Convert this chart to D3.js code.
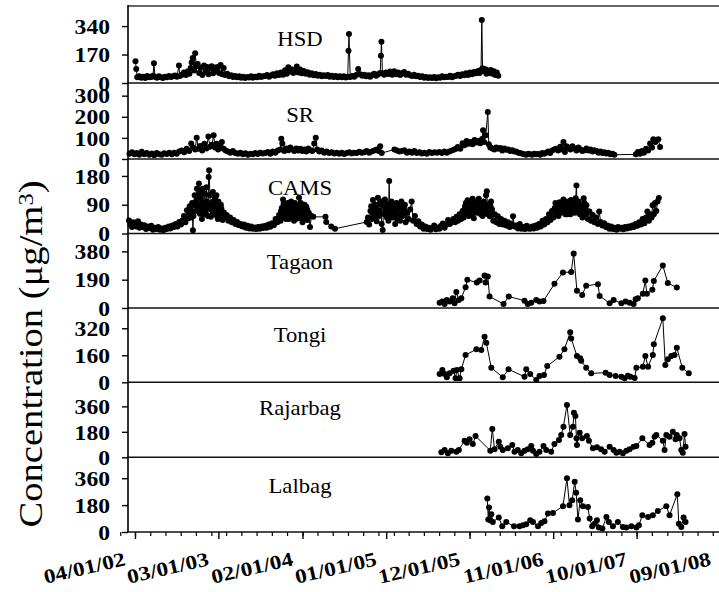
<!DOCTYPE html>
<html><head><meta charset="utf-8">
<script src="https://cdn.jsdelivr.net/npm/d3@7"></script>
<style>body{margin:0;background:#fff}svg{display:block}</style>
</head><body>
<svg id="chart" width="719" height="592"></svg>
<script>
const stations = ["HSD","SR","CAMS","Tagaon","Tongi","Rajarbag","Lalbag"];
const yTicks = [[0,170,340],[0,100,200,300],[0,90,180],[0,190,380],[0,160,320],[0,180,360],[0,180,360]];
const yMax = [460,360,233,500,440,530,500];
const xTickLabels = ["04/01/02","03/01/03","02/01/04","01/01/05","12/01/05","11/01/06","10/01/07","09/01/08"];
const yTitle = "Concentration (\u03bcg/m";

const hsd = [["2002-04-03",130],["2002-04-06",84],["2002-04-10",35],["2002-04-18",40],["2002-04-26",32],["2002-05-04",38],["2002-05-12",30],["2002-05-20",42],["2002-05-28",34],["2002-06-05",36],["2002-06-12",44],["2002-06-16",118],["2002-06-20",38],["2002-06-28",32],["2002-07-06",40],["2002-07-14",35],["2002-07-22",30],["2002-07-30",38],["2002-08-07",34],["2002-08-15",42],["2002-08-23",36],["2002-08-31",40],["2002-09-08",45],["2002-09-16",38],["2002-09-24",104],["2002-09-28",42],["2002-10-06",50],["2002-10-14",62],["2002-10-22",48],["2002-10-30",70],["2002-11-05",55],["2002-11-10",90],["2002-11-14",123],["2002-11-18",149],["2002-11-24",75],["2002-11-28",177],["2002-12-03",100],["2002-12-08",113],["2002-12-14",60],["2002-12-20",92],["2002-12-27",48],["2003-01-03",105],["2003-01-09",65],["2003-01-15",95],["2003-01-21",52],["2003-01-27",88],["2003-02-02",100],["2003-02-08",58],["2003-02-14",92],["2003-02-20",70],["2003-02-26",96],["2003-03-04",60],["2003-03-10",108],["2003-03-16",52],["2003-03-22",90],["2003-03-28",48],["2003-04-05",55],["2003-04-13",40],["2003-04-21",46],["2003-04-29",36],["2003-05-07",42],["2003-05-15",34],["2003-05-23",40],["2003-05-31",32],["2003-06-08",38],["2003-06-16",30],["2003-06-24",36],["2003-07-02",33],["2003-07-10",40],["2003-07-18",32],["2003-07-26",37],["2003-08-03",35],["2003-08-11",44],["2003-08-19",36],["2003-08-27",40],["2003-09-04",42],["2003-09-12",48],["2003-09-20",38],["2003-09-28",45],["2003-10-06",52],["2003-10-14",44],["2003-10-22",58],["2003-10-30",48],["2003-11-07",62],["2003-11-15",50],["2003-11-23",76],["2003-11-30",56],["2003-12-06",94],["2003-12-12",68],["2003-12-18",82],["2003-12-26",60],["2004-01-03",75],["2004-01-09",98],["2004-01-15",62],["2004-01-22",80],["2004-01-29",58],["2004-02-06",72],["2004-02-14",55],["2004-02-22",64],["2004-03-01",50],["2004-03-09",58],["2004-03-17",46],["2004-03-25",54],["2004-04-02",44],["2004-04-10",50],["2004-04-18",40],["2004-04-26",47],["2004-05-04",42],["2004-05-12",48],["2004-05-20",38],["2004-05-28",44],["2004-06-05",36],["2004-06-13",42],["2004-06-21",34],["2004-06-29",40],["2004-07-07",35],["2004-07-15",41],["2004-07-23",33],["2004-07-31",38],["2004-08-03",193],["2004-08-05",293],["2004-08-10",36],["2004-08-18",42],["2004-08-26",38],["2004-09-03",48],["2004-09-11",84],["2004-09-19",52],["2004-09-27",44],["2004-10-05",50],["2004-10-13",40],["2004-10-21",46],["2004-10-29",38],["2004-11-06",48],["2004-11-14",56],["2004-11-22",44],["2004-11-30",52],["2004-12-08",60],["2004-12-11",163],["2004-12-13",247],["2004-12-17",58],["2004-12-24",50],["2005-01-01",62],["2005-01-09",54],["2005-01-17",68],["2005-01-25",50],["2005-02-02",70],["2005-02-10",52],["2005-02-18",62],["2005-02-26",48],["2005-03-06",58],["2005-03-14",65],["2005-03-22",50],["2005-03-30",55],["2005-04-07",46],["2005-04-15",42],["2005-04-23",50],["2005-05-01",40],["2005-05-09",44],["2005-05-17",36],["2005-05-25",40],["2005-06-02",32],["2005-06-10",36],["2005-06-18",30],["2005-06-26",34],["2005-07-04",30],["2005-07-12",36],["2005-07-20",28],["2005-07-28",34],["2005-08-05",32],["2005-08-13",40],["2005-08-21",34],["2005-08-29",38],["2005-09-06",36],["2005-09-14",44],["2005-09-22",34],["2005-09-30",40],["2005-10-08",44],["2005-10-16",50],["2005-10-24",42],["2005-11-01",52],["2005-11-09",46],["2005-11-17",58],["2005-11-25",48],["2005-12-03",62],["2005-12-11",52],["2005-12-19",66],["2005-12-27",58],["2006-01-04",72],["2006-01-10",60],["2006-01-16",78],["2006-01-19",376],["2006-01-22",88],["2006-01-27",70],["2006-02-02",82],["2006-02-07",55],["2006-02-12",74],["2006-02-18",60],["2006-02-24",78],["2006-03-02",56],["2006-03-08",70],["2006-03-14",48],["2006-03-20",62],["2006-03-26",44]];

const sr = [["2002-03-10",25],["2002-03-20",32],["2002-03-30",22],["2002-04-08",28],["2002-04-18",20],["2002-04-28",34],["2002-05-08",22],["2002-05-18",28],["2002-05-28",20],["2002-06-07",26],["2002-06-17",18],["2002-06-27",28],["2002-07-07",22],["2002-07-17",20],["2002-07-27",27],["2002-08-06",24],["2002-08-16",30],["2002-08-26",22],["2002-09-05",30],["2002-09-15",25],["2002-09-25",35],["2002-10-05",40],["2002-10-15",32],["2002-10-25",48],["2002-11-04",38],["2002-11-12",73],["2002-11-20",55],["2002-11-28",45],["2002-12-04",101],["2002-12-10",48],["2002-12-18",62],["2002-12-26",40],["2003-01-04",72],["2003-01-12",50],["2003-01-20",107],["2003-01-26",58],["2003-02-03",68],["2003-02-10",112],["2003-02-16",55],["2003-02-22",72],["2003-02-28",45],["2003-03-08",60],["2003-03-15",80],["2003-03-22",48],["2003-03-30",40],["2003-04-08",35],["2003-04-18",30],["2003-04-28",38],["2003-05-08",28],["2003-05-18",25],["2003-05-28",30],["2003-06-07",22],["2003-06-17",27],["2003-06-27",20],["2003-07-07",25],["2003-07-17",22],["2003-07-27",28],["2003-08-06",24],["2003-08-16",30],["2003-08-26",26],["2003-09-05",28],["2003-09-15",33],["2003-09-25",25],["2003-10-05",35],["2003-10-15",30],["2003-10-25",40],["2003-11-04",45],["2003-11-08",96],["2003-11-12",73],["2003-11-20",38],["2003-11-28",50],["2003-12-06",42],["2003-12-14",55],["2003-12-22",45],["2003-12-30",38],["2004-01-07",50],["2004-01-15",40],["2004-01-23",48],["2004-01-31",38],["2004-02-08",45],["2004-02-16",36],["2004-02-24",50],["2004-03-03",42],["2004-03-11",38],["2004-03-19",73],["2004-03-25",101],["2004-03-31",45],["2004-04-08",35],["2004-04-18",40],["2004-04-28",30],["2004-05-08",35],["2004-05-18",28],["2004-05-28",32],["2004-06-07",26],["2004-06-17",30],["2004-06-27",25],["2004-07-07",30],["2004-07-17",24],["2004-07-27",28],["2004-08-06",32],["2004-08-16",26],["2004-08-26",30],["2004-09-05",28],["2004-09-15",34],["2004-09-25",30],["2004-10-05",32],["2004-10-15",38],["2004-10-25",30],["2004-11-04",35],["2004-11-14",40],["2004-11-24",45],["2004-12-02",38],["2004-12-08",60],["2004-12-14",28],["2005-02-03",45],["2005-02-13",40],["2005-02-23",35],["2005-03-05",38],["2005-03-15",42],["2005-03-25",30],["2005-04-04",35],["2005-04-14",30],["2005-04-24",38],["2005-05-04",28],["2005-05-14",32],["2005-05-24",26],["2005-06-03",30],["2005-06-13",25],["2005-06-23",33],["2005-07-03",28],["2005-07-13",32],["2005-07-23",30],["2005-08-02",33],["2005-08-12",28],["2005-08-22",36],["2005-09-01",30],["2005-09-11",35],["2005-09-21",40],["2005-10-01",45],["2005-10-10",50],["2005-10-15",57],["2005-10-25",48],["2005-11-03",75],["2005-11-11",65],["2005-11-19",85],["2005-11-27",72],["2005-12-05",80],["2005-12-13",70],["2005-12-21",90],["2005-12-29",78],["2006-01-06",85],["2006-01-13",75],["2006-01-20",95],["2006-01-24",136],["2006-01-28",80],["2006-02-04",112],["2006-02-12",223],["2006-02-16",70],["2006-02-22",55],["2006-03-02",50],["2006-03-10",45],["2006-03-18",55],["2006-03-26",48],["2006-04-03",52],["2006-04-11",40],["2006-04-19",50],["2006-04-27",44],["2006-05-05",45],["2006-05-13",38],["2006-05-21",42],["2006-05-29",36],["2006-06-06",35],["2006-06-14",30],["2006-06-22",28],["2006-06-30",25],["2006-07-08",22],["2006-07-16",20],["2006-07-24",25],["2006-08-01",22],["2006-08-09",20],["2006-08-17",25],["2006-08-25",22],["2006-09-02",24],["2006-09-10",20],["2006-09-18",28],["2006-09-26",25],["2006-10-04",30],["2006-10-12",35],["2006-10-20",28],["2006-10-28",40],["2006-11-05",45],["2006-11-13",49],["2006-11-21",40],["2006-11-29",58],["2006-12-06",45],["2006-12-12",80],["2006-12-18",33],["2006-12-24",60],["2007-01-01",55],["2007-01-09",45],["2007-01-17",60],["2007-01-25",50],["2007-02-02",40],["2007-02-10",55],["2007-02-18",45],["2007-02-26",38],["2007-03-06",42],["2007-03-14",50],["2007-03-22",40],["2007-03-30",45],["2007-04-07",35],["2007-04-15",42],["2007-04-23",38],["2007-05-01",30],["2007-05-09",35],["2007-05-17",28],["2007-05-25",32],["2007-06-02",26],["2007-06-10",30],["2007-06-18",22],["2007-06-26",25],["2007-07-04",20],["2007-09-28",22],["2007-10-06",33],["2007-10-14",25],["2007-10-22",38],["2007-10-30",30],["2007-11-08",49],["2007-11-16",40],["2007-11-24",73],["2007-12-02",55],["2007-12-07",93],["2007-12-15",80],["2007-12-27",93],["2008-01-03",57]];

const cams = [["2002-03-08",41],["2002-03-14",28],["2002-03-20",20],["2002-03-26",35],["2002-04-01",30],["2002-04-07",22],["2002-04-13",38],["2002-04-19",18],["2002-04-25",28],["2002-05-01",20],["2002-05-08",26],["2002-05-15",14],["2002-05-22",22],["2002-05-29",17],["2002-06-05",24],["2002-06-12",12],["2002-06-19",18],["2002-06-26",14],["2002-07-03",20],["2002-07-10",12],["2002-07-17",16],["2002-07-24",10],["2002-07-31",18],["2002-08-07",14],["2002-08-14",22],["2002-08-21",16],["2002-08-28",25],["2002-09-04",20],["2002-09-11",30],["2002-09-18",22],["2002-09-25",36],["2002-10-02",28],["2002-10-08",41],["2002-10-14",55],["2002-10-20",35],["2002-10-26",73],["2002-11-01",48],["2002-11-06",85],["2002-11-11",62],["2002-11-16",95],["2002-11-19",10],["2002-11-21",55],["2002-11-26",120],["2002-12-01",70],["2002-12-05",140],["2002-12-09",90],["2002-12-13",156],["2002-12-17",62],["2002-12-21",112],["2002-12-25",45],["2002-12-29",98],["2003-01-02",60],["2003-01-06",125],["2003-01-10",75],["2003-01-14",100],["2003-01-18",55],["2003-01-21",177],["2003-01-23",198],["2003-01-26",120],["2003-01-30",52],["2003-02-03",95],["2003-02-07",130],["2003-02-11",70],["2003-02-15",110],["2003-02-19",58],["2003-02-23",92],["2003-02-27",45],["2003-03-03",85],["2003-03-08",60],["2003-03-13",78],["2003-03-18",42],["2003-03-23",66],["2003-03-28",50],["2003-04-03",58],["2003-04-10",40],["2003-04-17",50],["2003-04-24",35],["2003-05-01",42],["2003-05-08",30],["2003-05-15",36],["2003-05-22",26],["2003-05-29",30],["2003-06-05",22],["2003-06-12",28],["2003-06-19",18],["2003-06-26",24],["2003-07-03",16],["2003-07-10",22],["2003-07-17",15],["2003-07-24",19],["2003-07-31",14],["2003-08-07",20],["2003-08-14",15],["2003-08-21",22],["2003-08-28",17],["2003-09-04",24],["2003-09-11",18],["2003-09-18",28],["2003-09-25",21],["2003-10-02",32],["2003-10-09",26],["2003-10-16",45],["2003-10-23",35],["2003-10-30",58],["2003-11-05",40],["2003-11-10",80],["2003-11-15",106],["2003-11-19",50],["2003-11-24",88],["2003-11-29",62],["2003-12-04",95],["2003-12-09",45],["2003-12-14",78],["2003-12-19",58],["2003-12-24",90],["2003-12-29",40],["2004-01-03",72],["2004-01-08",55],["2004-01-13",88],["2004-01-18",112],["2004-01-22",48],["2004-01-27",80],["2004-02-01",35],["2004-02-06",70],["2004-02-11",50],["2004-02-16",84],["2004-02-21",42],["2004-02-26",65],["2004-03-02",20],["2004-03-08",55],["2004-03-15",52],["2004-05-03",52],["2004-05-06",36],["2004-05-26",22],["2004-06-10",15],["2004-10-15",36],["2004-10-20",50],["2004-10-25",28],["2004-10-30",70],["2004-11-04",45],["2004-11-09",105],["2004-11-14",60],["2004-11-19",90],["2004-11-24",38],["2004-11-29",112],["2004-12-04",55],["2004-12-09",95],["2004-12-14",30],["2004-12-18",11],["2004-12-22",85],["2004-12-27",106],["2005-01-01",62],["2005-01-06",92],["2005-01-10",40],["2005-01-13",164],["2005-01-17",70],["2005-01-22",100],["2005-01-27",50],["2005-02-01",85],["2005-02-06",30],["2005-02-11",95],["2005-02-16",60],["2005-02-21",78],["2005-02-26",40],["2005-03-03",100],["2005-03-08",55],["2005-03-14",80],["2005-03-20",35],["2005-03-26",65],["2005-04-01",45],["2005-04-07",75],["2005-04-13",100],["2005-04-19",40],["2005-04-26",55],["2005-05-03",30],["2005-05-10",38],["2005-05-17",22],["2005-05-24",28],["2005-05-31",15],["2005-06-07",22],["2005-06-14",14],["2005-06-21",18],["2005-06-28",12],["2005-07-05",17],["2005-07-12",25],["2005-07-19",13],["2005-07-26",19],["2005-08-02",15],["2005-08-09",24],["2005-08-16",31],["2005-08-23",18],["2005-08-30",28],["2005-09-06",42],["2005-09-13",30],["2005-09-20",36],["2005-09-27",45],["2005-10-04",35],["2005-10-10",52],["2005-10-16",40],["2005-10-22",60],["2005-10-28",45],["2005-11-03",70],["2005-11-08",50],["2005-11-13",85],["2005-11-18",60],["2005-11-23",104],["2005-11-28",55],["2005-12-03",95],["2005-12-08",62],["2005-12-13",109],["2005-12-18",48],["2005-12-23",80],["2005-12-28",100],["2006-01-02",65],["2006-01-07",109],["2006-01-12",70],["2006-01-17",92],["2006-01-22",55],["2006-01-27",100],["2006-02-01",75],["2006-02-05",120],["2006-02-08",132],["2006-02-12",60],["2006-02-16",90],["2006-02-20",54],["2006-02-25",100],["2006-03-01",75],["2006-03-06",40],["2006-03-12",60],["2006-03-18",35],["2006-03-24",54],["2006-03-30",30],["2006-04-06",45],["2006-04-13",28],["2006-04-20",40],["2006-04-27",25],["2006-05-04",35],["2006-05-11",20],["2006-05-18",30],["2006-05-24",54],["2006-05-30",22],["2006-06-06",25],["2006-06-13",16],["2006-06-20",30],["2006-06-27",15],["2006-07-04",20],["2006-07-11",14],["2006-07-18",24],["2006-07-25",16],["2006-08-01",15],["2006-08-08",22],["2006-08-15",16],["2006-08-22",25],["2006-08-29",18],["2006-09-05",30],["2006-09-12",22],["2006-09-19",40],["2006-09-26",28],["2006-10-03",45],["2006-10-09",35],["2006-10-15",60],["2006-10-21",42],["2006-10-27",70],["2006-11-02",50],["2006-11-07",80],["2006-11-12",60],["2006-11-17",90],["2006-11-22",55],["2006-11-27",98],["2006-12-02",65],["2006-12-07",88],["2006-12-12",106],["2006-12-17",70],["2006-12-22",95],["2006-12-27",60],["2007-01-01",100],["2007-01-06",72],["2007-01-11",105],["2007-01-16",65],["2007-01-21",95],["2007-01-26",80],["2007-01-30",110],["2007-02-02",150],["2007-02-06",70],["2007-02-11",100],["2007-02-16",60],["2007-02-21",90],["2007-02-26",50],["2007-03-03",110],["2007-03-08",75],["2007-03-14",88],["2007-03-20",45],["2007-03-26",69],["2007-04-01",40],["2007-04-08",58],["2007-04-15",35],["2007-04-22",50],["2007-04-29",30],["2007-05-04",69],["2007-05-10",36],["2007-05-17",25],["2007-05-24",32],["2007-05-31",20],["2007-06-07",25],["2007-06-14",15],["2007-06-21",22],["2007-06-28",14],["2007-07-05",18],["2007-07-12",12],["2007-07-19",20],["2007-07-26",15],["2007-08-02",18],["2007-08-09",13],["2007-08-16",20],["2007-08-23",16],["2007-08-30",22],["2007-09-06",18],["2007-09-13",25],["2007-09-20",20],["2007-09-27",30],["2007-10-04",24],["2007-10-11",35],["2007-10-18",28],["2007-10-25",45],["2007-11-01",32],["2007-11-07",50],["2007-11-13",69],["2007-11-19",40],["2007-11-25",60],["2007-11-30",50],["2007-12-04",88],["2007-12-09",60],["2007-12-14",95],["2007-12-19",70],["2007-12-24",100],["2007-12-29",111],
["2002-11-03",65],["2002-11-08",75],["2002-11-13",50],["2002-11-28",88],["2002-12-03",105],["2002-12-07",75],["2002-12-11",120],["2002-12-15",80],["2002-12-19",130],["2002-12-23",70],["2002-12-27",140],["2002-12-31",85],["2003-01-04",92],["2003-01-08",65],["2003-01-12",145],["2003-01-16",80],["2003-01-28",90],["2003-02-01",75],["2003-02-05",60],["2003-02-09",100],["2003-02-13",85],["2003-02-17",75],["2003-02-21",120],["2003-02-25",70],["2003-03-01",100],["2003-03-05",55],["2003-03-11",90],["2003-03-16",60],
["2003-11-07",70],["2003-11-12",55],["2003-11-17",92],["2003-11-22",70],["2003-11-27",45],["2003-12-02",70],["2003-12-07",85],["2003-12-12",62],["2003-12-17",100],["2003-12-22",50],["2003-12-27",75],["2004-01-01",95],["2004-01-06",45],["2004-01-11",65],["2004-01-16",75],["2004-01-25",95],["2004-01-30",60],["2004-02-04",55],["2004-02-09",90],["2004-02-14",62],["2004-02-19",75],
["2004-11-02",85],["2004-11-07",65],["2004-11-12",80],["2004-11-17",50],["2004-11-22",75],["2004-11-27",60],["2004-12-02",90],["2004-12-07",70],["2004-12-12",100],["2004-12-25",60],["2004-12-30",80],["2005-01-04",50],["2005-01-08",75],["2005-01-15",90],["2005-01-20",55],["2005-01-25",80],["2005-01-30",65],["2005-02-04",70],["2005-02-09",55],["2005-02-14",80],["2005-02-19",45],["2005-02-24",90],["2005-03-01",60],["2005-03-11",70],["2005-03-17",90],
["2005-11-06",60],["2005-11-11",75],["2005-11-16",95],["2005-11-21",70],["2005-11-26",80],["2005-12-01",70],["2005-12-06",85],["2005-12-11",75],["2005-12-16",95],["2005-12-21",65],["2005-12-26",90],["2005-12-31",80],["2006-01-05",85],["2006-01-10",95],["2006-01-15",60],["2006-01-20",80],["2006-01-25",70],["2006-01-30",90],["2006-02-03",65],["2006-02-14",80],["2006-02-18",70],["2006-02-23",85],["2006-02-27",60],
["2006-11-05",70],["2006-11-10",95],["2006-11-15",75],["2006-11-20",85],["2006-11-25",70],["2006-11-30",85],["2006-12-05",75],["2006-12-10",95],["2006-12-15",80],["2006-12-20",60],["2006-12-25",85],["2006-12-30",75],["2007-01-04",90],["2007-01-09",60],["2007-01-14",85],["2007-01-19",75],["2007-01-24",100],["2007-01-28",65],["2007-02-04",95],["2007-02-09",80],["2007-02-14",90],["2007-02-19",75],["2007-02-24",85],["2007-03-01",65],["2007-03-06",95],["2007-03-11",60],["2007-03-17",70]];

const tagaon = [["2005-08-03",36],["2005-08-14",43],["2005-08-23",27],["2005-09-01",54],["2005-09-12",43],["2005-09-25",65],["2005-10-02",32],["2005-10-09",108],["2005-10-19",54],["2005-10-29",65],["2005-11-15",140],["2005-11-22",189],["2005-12-30",171],["2006-01-10",185],["2006-01-30",218],["2006-02-03",171],["2006-02-12",212],["2006-02-19",77],["2006-04-16",27],["2006-05-07",77],["2006-07-09",49],["2006-07-22",27],["2006-08-05",36],["2006-08-25",54],["2006-09-07",43],["2006-09-23",47],["2006-11-06",162],["2006-12-10",239],["2007-01-12",241],["2007-01-22",365],["2007-02-04",115],["2007-02-25",88],["2007-03-13",149],["2007-04-29",160],["2007-05-06",81],["2007-06-15",32],["2007-07-01",54],["2007-08-01",32],["2007-08-18",43],["2007-09-03",36],["2007-09-19",27],["2007-09-27",59],["2007-10-06",65],["2007-10-26",95],["2007-11-05",185],["2007-11-11",95],["2007-12-03",122],["2007-12-09",182],["2008-01-14",286],["2008-02-03",167],["2008-03-10",137]];

const tongi = [["2005-08-03",49],["2005-08-14",73],["2005-08-23",49],["2005-09-01",30],["2005-09-12",53],["2005-09-28",69],["2005-10-06",24],["2005-10-11",73],["2005-10-22",24],["2005-10-29",77],["2005-11-15",162],["2005-12-28",195],["2006-01-17",191],["2006-01-30",270],["2006-02-06",234],["2006-02-26",86],["2006-04-13",30],["2006-05-06",77],["2006-07-09",33],["2006-07-16",77],["2006-08-01",49],["2006-08-25",14],["2006-09-07",37],["2006-09-25",43],["2006-10-08",96],["2006-11-26",152],["2006-12-16",195],["2007-01-08",296],["2007-01-12",260],["2007-02-04",156],["2007-02-17",142],["2007-02-21",128],["2007-03-13",86],["2007-04-02",53],["2007-05-30",57],["2007-06-15",43],["2007-07-09",37],["2007-08-01",33],["2007-08-14",24],["2007-08-27",39],["2007-09-06",33],["2007-09-23",25],["2007-09-30",86],["2007-10-26",92],["2007-11-05",156],["2007-11-16",92],["2007-12-05",162],["2007-12-09",225],["2008-01-14",379],["2008-01-24",102],["2008-02-03",136],["2008-02-17",156],["2008-03-01",162],["2008-03-10",205],["2008-04-01",86],["2008-04-27",53]];

const rajarbag = [["2005-08-10",35],["2005-08-23",52],["2005-09-05",28],["2005-09-19",47],["2005-10-09",40],["2005-10-19",52],["2005-11-11",117],["2005-11-20",103],["2005-12-01",127],["2005-12-14",94],["2005-12-25",150],["2006-02-22",47],["2006-03-02",200],["2006-03-11",57],["2006-03-28",110],["2006-04-03",75],["2006-04-13",52],["2006-05-03",64],["2006-05-21",87],["2006-05-30",40],["2006-06-12",52],["2006-06-26",28],["2006-07-09",47],["2006-07-22",57],["2006-08-05",80],["2006-08-12",47],["2006-08-25",23],["2006-09-07",40],["2006-09-23",80],["2006-10-04",52],["2006-10-24",40],["2006-11-06",94],["2006-11-24",122],["2006-12-03",158],["2006-12-12",216],["2006-12-26",370],["2007-01-08",158],["2007-01-19",216],["2007-01-23",315],["2007-01-29",292],["2007-02-02",134],["2007-02-04",87],["2007-02-15",174],["2007-02-25",134],["2007-03-16",150],["2007-03-24",117],["2007-04-09",64],["2007-04-25",71],["2007-05-12",57],["2007-05-26",40],["2007-06-15",75],["2007-07-01",52],["2007-07-12",33],["2007-07-25",40],["2007-08-07",28],["2007-08-21",47],["2007-09-03",57],["2007-09-19",75],["2007-09-30",80],["2007-10-24",134],["2007-11-22",87],["2007-12-03",103],["2007-12-12",146],["2007-12-19",158],["2008-01-14",117],["2008-01-21",52],["2008-01-28",158],["2008-02-10",146],["2008-02-23",181],["2008-03-05",127],["2008-03-10",158],["2008-03-21",134],["2008-03-28",52],["2008-04-03",33],["2008-04-10",165],["2008-04-14",75]];

const lalbag = [["2006-02-10",224],["2006-02-14",83],["2006-02-17",164],["2006-02-22",79],["2006-02-26",119],["2006-03-04",67],["2006-03-28",97],["2006-04-11",38],["2006-04-27",67],["2006-05-28",38],["2006-06-19",38],["2006-07-03",45],["2006-07-16",52],["2006-08-01",79],["2006-08-12",67],["2006-09-01",38],["2006-09-14",60],["2006-09-27",72],["2006-10-11",124],["2006-10-31",128],["2006-12-10",173],["2006-12-26",359],["2007-01-05",179],["2007-01-16",213],["2007-01-26",336],["2007-02-01",262],["2007-02-08",83],["2007-02-17",213],["2007-02-28",173],["2007-03-20",168],["2007-03-27",90],["2007-04-06",38],["2007-04-16",56],["2007-04-25",79],["2007-05-03",30],["2007-05-17",23],["2007-06-02",101],["2007-06-12",67],["2007-06-28",38],["2007-07-18",67],["2007-08-07",34],["2007-08-21",30],["2007-09-10",38],["2007-09-30",30],["2007-10-10",45],["2007-10-24",112],["2007-11-16",101],["2007-12-05",112],["2007-12-25",141],["2008-01-28",173],["2008-02-10",112],["2008-03-12",253],["2008-03-18",56],["2008-03-28",34],["2008-04-06",97],["2008-04-14",67]];

const series = [hsd, sr, cams, tagaon, tongi, rajarbag, lalbag];

// ---- layout ----
const W = 719, H = 592;
const plotLeft = 128, plotRight = 724;
const edges = [6, 83, 159, 233.5, 308, 382.3, 457.3, 532];
const labelOffset = [40, 38.7, 36, 35.3, 33.7, 33, 35.5];
const serif = "'Liberation Serif','Times New Roman',Times,serif";
const parse = d3.timeParse("%Y-%m-%d");
const parseTick = d3.timeParse("%m/%d/%y");

const svg = d3.select("#chart");
svg.append("rect").attr("width", W).attr("height", H).attr("fill", "#fff");

const x = d3.scaleTime()
  .domain([parse("2002-03-04"), parse("2008-09-15")])
  .range([plotLeft, plotRight]);

series.forEach((raw, i) => {
  const top = edges[i], bottom = edges[i + 1];
  const y = d3.scaleLinear().domain([0, yMax[i]]).range([bottom, top]);
  const data = raw.map(d => ({date: parse(d[0]), v: d[1]}))
    .sort((a, b) => a.date - b.date);
  const g = svg.append("g");

  g.append("path")
    .datum(data)
    .attr("fill", "none")
    .attr("stroke", "#000")
    .attr("stroke-width", 1)
    .attr("d", d3.line().x(d => x(d.date)).y(d => y(d.v)));

  g.selectAll("circle").data(data).join("circle")
    .attr("cx", d => x(d.date)).attr("cy", d => y(d.v))
    .attr("r", 3).attr("fill", "#000");

  g.append("line")
    .attr("x1", plotLeft).attr("x2", W)
    .attr("y1", bottom).attr("y2", bottom)
    .attr("stroke", "#111").attr("stroke-width", 1.6);

  const ya = svg.append("g").attr("transform", `translate(${plotLeft},0)`)
    .call(d3.axisLeft(y).tickValues(yTicks[i]).tickSize(6).tickFormat(d3.format("d")));
  ya.select(".domain").remove();
  ya.selectAll(".tick line").attr("stroke", "#000").attr("stroke-width", 1.4);
  ya.selectAll(".tick text")
    .attr("x", 0).attr("dy", "0.36em")
    .attr("transform", "translate(-18,0) scale(1.18,1)")
    .attr("text-anchor", "end")
    .attr("fill", "#000")
    .style("font-family", serif).style("font-weight", "bold").style("font-size", "20px");

  svg.append("text")
    .attr("transform", `translate(300,${top + labelOffset[i]}) scale(1.08,1)`)
    .attr("text-anchor", "middle")
    .style("font-family", serif).style("font-size", "21px")
    .text(stations[i]);
});

svg.append("line").attr("x1", plotLeft).attr("x2", W).attr("y1", edges[0]).attr("y2", edges[0])
  .attr("stroke", "#666").attr("stroke-width", 2);
svg.append("line").attr("x1", plotLeft).attr("x2", plotLeft).attr("y1", edges[0] - 1).attr("y2", edges[7])
  .attr("stroke", "#000").attr("stroke-width", 1.6);

const minorTicks = d3.timeMonth.range(parse("2002-02-01"), parse("2008-10-01"), 2);
const xMinor = svg.append("g").attr("transform", `translate(0,${edges[7]})`)
  .call(d3.axisBottom(x).tickValues(minorTicks).tickSize(4).tickFormat(""));
xMinor.select(".domain").remove();
xMinor.selectAll(".tick line").attr("stroke", "#000").attr("stroke-width", 1.2);

const majorTicks = xTickLabels.map(parseTick);
const xMajor = svg.append("g").attr("transform", `translate(0,${edges[7]})`)
  .call(d3.axisBottom(x).tickValues(majorTicks).tickSize(7).tickFormat((d, k) => xTickLabels[k]));
xMajor.select(".domain").remove();
xMajor.selectAll(".tick line").attr("stroke", "#000").attr("stroke-width", 1.4);
xMajor.selectAll(".tick text")
  .attr("x", 0).attr("y", 0).attr("dy", 0)
  .attr("text-anchor", "end")
  .attr("transform", "translate(-9,33) rotate(-13) scale(1.17,1)")
  .attr("fill", "#000")
  .style("font-family", serif).style("font-weight", "bold").style("font-size", "20px");

const title = svg.append("text")
  .attr("transform", "translate(42,354) rotate(-90) scale(1.17,1)")
  .attr("text-anchor", "middle")
  .style("font-family", serif).style("font-size", "33px");
title.append("tspan").text(yTitle);
title.append("tspan").attr("dy", "-0.45em").style("font-size", "21px").text("3");
title.append("tspan").attr("dy", "0.3em").text(")");
</script>
</body></html>
